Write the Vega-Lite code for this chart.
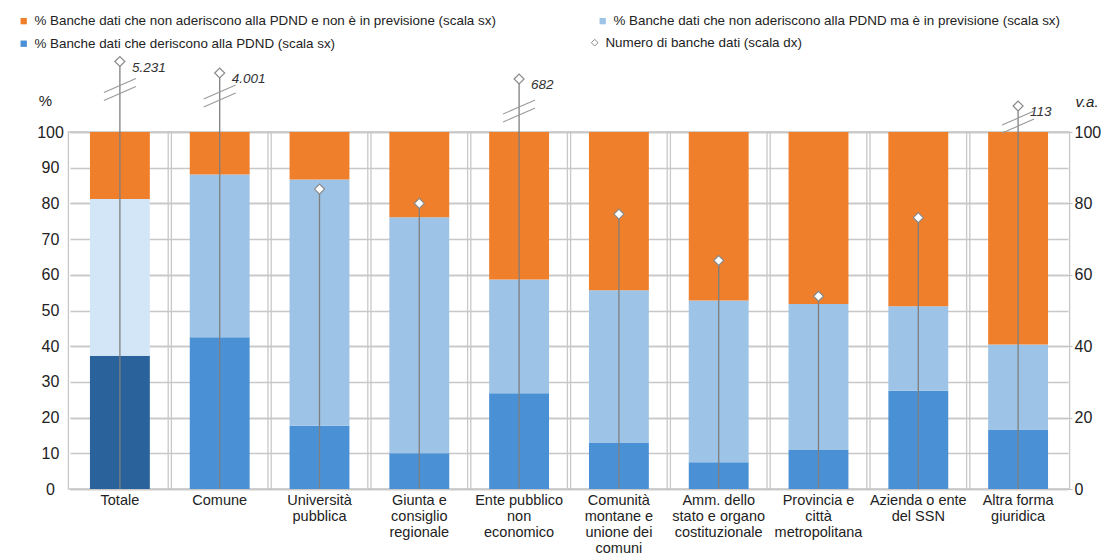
{
  "$schema": "https://vega.github.io/schema/vega-lite/v6.json",
  "autosize": "none",
  "width": 998,
  "height": 357,
  "padding": {"left": 70, "top": 132, "right": 44, "bottom": 67},
  "background": "#ffffff",
  "config": {
    "font": "Liberation Sans",
    "view": {"stroke": null},
    "axis": {"labelFont": "Liberation Sans Narrow, Liberation Sans", "labelColor": "#222222", "titleColor": "#222222", "titleFontWeight": "normal"}
  },
  "datasets": {
    "quote": [
      {"categoria": "Totale", "serie": "% Banche dati che deriscono alla PDND (scala sx)", "valore": 37.3},
      {"categoria": "Totale", "serie": "% Banche dati che non aderiscono alla PDND ma è in previsione (scala sx)", "valore": 43.9},
      {"categoria": "Totale", "serie": "% Banche dati che non aderiscono alla PDND e non è in previsione (scala sx)", "valore": 18.8},
      {"categoria": "Comune", "serie": "% Banche dati che deriscono alla PDND (scala sx)", "valore": 42.5},
      {"categoria": "Comune", "serie": "% Banche dati che non aderiscono alla PDND ma è in previsione (scala sx)", "valore": 45.6},
      {"categoria": "Comune", "serie": "% Banche dati che non aderiscono alla PDND e non è in previsione (scala sx)", "valore": 11.9},
      {"categoria": "Università pubblica", "serie": "% Banche dati che deriscono alla PDND (scala sx)", "valore": 17.7},
      {"categoria": "Università pubblica", "serie": "% Banche dati che non aderiscono alla PDND ma è in previsione (scala sx)", "valore": 69.0},
      {"categoria": "Università pubblica", "serie": "% Banche dati che non aderiscono alla PDND e non è in previsione (scala sx)", "valore": 13.3},
      {"categoria": "Giunta e consiglio regionale", "serie": "% Banche dati che deriscono alla PDND (scala sx)", "valore": 10.0},
      {"categoria": "Giunta e consiglio regionale", "serie": "% Banche dati che non aderiscono alla PDND ma è in previsione (scala sx)", "valore": 66.1},
      {"categoria": "Giunta e consiglio regionale", "serie": "% Banche dati che non aderiscono alla PDND e non è in previsione (scala sx)", "valore": 23.9},
      {"categoria": "Ente pubblico non economico", "serie": "% Banche dati che deriscono alla PDND (scala sx)", "valore": 26.8},
      {"categoria": "Ente pubblico non economico", "serie": "% Banche dati che non aderiscono alla PDND ma è in previsione (scala sx)", "valore": 31.9},
      {"categoria": "Ente pubblico non economico", "serie": "% Banche dati che non aderiscono alla PDND e non è in previsione (scala sx)", "valore": 41.3},
      {"categoria": "Comunità montane e unione dei comuni", "serie": "% Banche dati che deriscono alla PDND (scala sx)", "valore": 13.0},
      {"categoria": "Comunità montane e unione dei comuni", "serie": "% Banche dati che non aderiscono alla PDND ma è in previsione (scala sx)", "valore": 42.7},
      {"categoria": "Comunità montane e unione dei comuni", "serie": "% Banche dati che non aderiscono alla PDND e non è in previsione (scala sx)", "valore": 44.3},
      {"categoria": "Amm. dello stato e organo costituzionale", "serie": "% Banche dati che deriscono alla PDND (scala sx)", "valore": 7.5},
      {"categoria": "Amm. dello stato e organo costituzionale", "serie": "% Banche dati che non aderiscono alla PDND ma è in previsione (scala sx)", "valore": 45.3},
      {"categoria": "Amm. dello stato e organo costituzionale", "serie": "% Banche dati che non aderiscono alla PDND e non è in previsione (scala sx)", "valore": 47.2},
      {"categoria": "Provincia e città metropolitana", "serie": "% Banche dati che deriscono alla PDND (scala sx)", "valore": 10.9},
      {"categoria": "Provincia e città metropolitana", "serie": "% Banche dati che non aderiscono alla PDND ma è in previsione (scala sx)", "valore": 40.9},
      {"categoria": "Provincia e città metropolitana", "serie": "% Banche dati che non aderiscono alla PDND e non è in previsione (scala sx)", "valore": 48.2},
      {"categoria": "Azienda o ente del SSN", "serie": "% Banche dati che deriscono alla PDND (scala sx)", "valore": 27.5},
      {"categoria": "Azienda o ente del SSN", "serie": "% Banche dati che non aderiscono alla PDND ma è in previsione (scala sx)", "valore": 23.7},
      {"categoria": "Azienda o ente del SSN", "serie": "% Banche dati che non aderiscono alla PDND e non è in previsione (scala sx)", "valore": 48.8},
      {"categoria": "Altra forma giuridica", "serie": "% Banche dati che deriscono alla PDND (scala sx)", "valore": 16.7},
      {"categoria": "Altra forma giuridica", "serie": "% Banche dati che non aderiscono alla PDND ma è in previsione (scala sx)", "valore": 23.8},
      {"categoria": "Altra forma giuridica", "serie": "% Banche dati che non aderiscono alla PDND e non è in previsione (scala sx)", "valore": 59.5}
    ],
    "numero": [
      {"categoria": "Totale", "banche": 5231},
      {"categoria": "Comune", "banche": 4001},
      {"categoria": "Università pubblica", "banche": 84},
      {"categoria": "Giunta e consiglio regionale", "banche": 80},
      {"categoria": "Ente pubblico non economico", "banche": 682},
      {"categoria": "Comunità montane e unione dei comuni", "banche": 77},
      {"categoria": "Amm. dello stato e organo costituzionale", "banche": 64},
      {"categoria": "Provincia e città metropolitana", "banche": 54},
      {"categoria": "Azienda o ente del SSN", "banche": 76},
      {"categoria": "Altra forma giuridica", "banche": 113}
    ]
  },
  "encoding": {
    "x": {
      "field": "categoria",
      "type": "nominal",
      "sort": null,
      "scale": {"paddingInner": 0.4, "paddingOuter": 0.2},
      "axis": {
        "title": null,
        "labelAngle": 0,
        "domain": false,
        "ticks": false,
        "grid": false,
        "labelFontSize": 14.5,
        "labelLineHeight": 16,
        "labelPadding": 4,
        "labelBaseline": "top",
        "labelExpr": "datum.label == 'Università pubblica' ? ['Università', 'pubblica'] : datum.label == 'Giunta e consiglio regionale' ? ['Giunta e', 'consiglio', 'regionale'] : datum.label == 'Ente pubblico non economico' ? ['Ente pubblico', 'non', 'economico'] : datum.label == 'Comunità montane e unione dei comuni' ? ['Comunità', 'montane e', 'unione dei', 'comuni'] : datum.label == 'Amm. dello stato e organo costituzionale' ? ['Amm. dello', 'stato  e organo', 'costituzionale'] : datum.label == 'Provincia e città metropolitana' ? ['Provincia e', 'città', 'metropolitana'] : datum.label == 'Azienda o ente del SSN' ? ['Azienda o ente', 'del SSN'] : datum.label == 'Altra forma giuridica' ? ['Altra forma', 'giuridica'] : datum.label"
      }
    }
  },
  "layer": [
    {
      "data": {"name": "numero"},
      "mark": {"type": "bar", "fill": null, "stroke": "#C8C8C8", "strokeWidth": 1.3, "width": {"band": 1.72}},
      "encoding": {
        "y": {"datum": 100, "type": "quantitative", "scale": {"domain": [0, 100], "nice": false}, "axis": null},
        "y2": {"datum": 0}
      }
    },
    {
      "data": {"name": "quote"},
      "transform": [
        {"calculate": "indexof(['% Banche dati che deriscono alla PDND (scala sx)', '% Banche dati che non aderiscono alla PDND ma è in previsione (scala sx)', '% Banche dati che non aderiscono alla PDND e non è in previsione (scala sx)'], datum.serie)", "as": "ordine"},
        {"calculate": "datum.categoria === 'Totale' && datum.ordine < 2 ? datum.serie + ' | Totale' : datum.serie", "as": "chiave"}
      ],
      "mark": {"type": "bar"},
      "encoding": {
        "y": {
          "field": "valore",
          "type": "quantitative",
          "stack": "zero",
          "scale": {"domain": [0, 100], "nice": false},
          "axis": {
            "orient": "left",
            "values": [0, 10, 20, 30, 40, 50, 60, 70, 80, 90, 100],
            "labelOverlap": false,
            "grid": true,
            "gridColor": "#c8c8c8",
            "gridWidth": 1.5,
            "domain": false,
            "ticks": false,
            "tickSize": 0,
            "labelAlign": "center",
            "labelPadding": 20,
            "labelFontSize": 16,
            "title": "%",
            "titleAngle": 0,
            "titleX": -25,
            "titleY": -32,
            "titleAlign": "center",
            "titleBaseline": "middle",
            "titleFont": "Liberation Sans Narrow, Liberation Sans",
            "titleFontSize": 15
          }
        },
        "order": {"field": "ordine", "type": "quantitative"},
        "color": {
          "field": "chiave",
          "type": "nominal",
          "scale": {
            "domain": [
              "% Banche dati che non aderiscono alla PDND e non è in previsione (scala sx)",
              "% Banche dati che non aderiscono alla PDND ma è in previsione (scala sx)",
              "% Banche dati che deriscono alla PDND (scala sx)",
              "% Banche dati che non aderiscono alla PDND ma è in previsione (scala sx) | Totale",
              "% Banche dati che deriscono alla PDND (scala sx) | Totale"
            ],
            "range": ["#F07F2B", "#9DC3E6", "#4A90D5", "#D3E6F8", "#2A639C"]
          },
          "legend": {
            "values": [
              "% Banche dati che non aderiscono alla PDND e non è in previsione (scala sx)",
              "% Banche dati che non aderiscono alla PDND ma è in previsione (scala sx)",
              "% Banche dati che deriscono alla PDND (scala sx)"
            ],
            "orient": "none",
            "legendX": -53,
            "legendY": -118,
            "direction": "horizontal",
            "columns": 2,
            "columnPadding": 100,
            "rowPadding": 8,
            "padding": 0,
            "title": null,
            "symbolType": "square",
            "symbolSize": 40,
            "symbolStrokeWidth": 0,
            "labelFont": "Liberation Sans",
            "labelFontSize": 13.4,
            "labelColor": "#222222",
            "labelOffset": 4,
            "labelLimit": 600
          }
        }
      }
    },
    {
      "data": {"name": "numero"},
      "layer": [
        {
          "layer": [
            {
              "mark": {"type": "rule", "color": "#7F7F7F", "strokeWidth": 1.3},
              "encoding": {
                "y": {
                  "field": "banche",
                  "type": "quantitative",
                  "scale": {"domain": [0, 100, 113, 682, 4001, 5231], "range": [357, 0, -26, -53, -59, -73]},
                  "axis": {
                    "orient": "right",
                    "values": [0, 10, 20, 30, 40, 50, 60, 70, 80, 90, 100],
                    "labelOverlap": false,
                    "grid": true,
                    "gridColor": "#c8c8c8",
                    "gridWidth": 1.5,
                    "domain": false,
                    "ticks": true,
                    "tickSize": 4,
                    "tickColor": "#bfbfbf",
                    "labelPadding": 2,
                    "labelFontSize": 16,
                    "title": "v.a.",
                    "titleAngle": 0,
                    "titleX": 7,
                    "titleY": -31,
                    "titleAlign": "left",
                    "titleBaseline": "middle",
                    "titleFont": "Liberation Sans Narrow, Liberation Sans",
                    "titleFontStyle": "italic",
                    "titleFontSize": 15
                  }
                },
                "y2": {"datum": 0}
              }
            },
            {
              "mark": {"type": "point", "filled": true, "fill": "#FFFFFF", "strokeWidth": 1.2, "size": 100, "opacity": 1},
              "encoding": {
                "y": {"field": "banche", "type": "quantitative"},
                "shape": {
                  "datum": "Numero di banche dati (scala dx)",
                  "type": "nominal",
                  "scale": {"range": ["diamond"]},
                  "legend": {
                    "orient": "none",
                    "legendX": 518,
                    "legendY": -96,
                    "padding": 0,
                    "title": null,
                    "symbolSize": 45,
                    "symbolFillColor": "#FFFFFF",
                    "symbolStrokeWidth": 1,
                    "labelFont": "Liberation Sans",
                    "labelFontSize": 13.4,
                    "labelColor": "#222222",
                    "labelOffset": 4,
                    "labelLimit": 600
                  }
                },
                "stroke": {
                  "datum": "Numero di banche dati (scala dx)",
                  "type": "nominal",
                  "scale": {"range": ["#8A8A8A"]},
                  "legend": {
                    "orient": "none",
                    "legendX": 518,
                    "legendY": -96,
                    "padding": 0,
                    "title": null,
                    "symbolSize": 45,
                    "symbolFillColor": "#FFFFFF",
                    "symbolStrokeWidth": 1,
                    "labelFont": "Liberation Sans",
                    "labelFontSize": 13.4,
                    "labelColor": "#222222",
                    "labelOffset": 4,
                    "labelLimit": 600
                  }
                }
              }
            },
            {
              "transform": [
                {"filter": "datum.banche > 100"},
                {"calculate": "replace(format(datum.banche, ','), ',', '.')", "as": "etichetta"}
              ],
              "mark": {"type": "text", "align": "left", "baseline": "middle", "dx": 12, "dy": 6, "fontStyle": "italic", "fontSize": 13.5, "color": "#333333"},
              "encoding": {
                "y": {"field": "banche", "type": "quantitative"},
                "text": {"field": "etichetta", "type": "nominal"}
              }
            }
          ]
        },
        {
          "transform": [{"filter": "datum.banche > 100"}],
          "layer": [
            {
              "mark": {"type": "rule", "color": "#9A9A9A", "strokeWidth": 1.1, "xOffset": -16, "x2Offset": 16, "yOffset": 3, "y2Offset": -11},
              "encoding": {
                "y": {
                  "field": "banche",
                  "type": "quantitative",
                  "scale": {"domain": [0, 100, 113, 682, 4001, 5231], "range": [357, 0, -10, -21, -36, -44]},
                  "axis": null
                },
                "x2": {"field": "categoria"},
                "y2": {"field": "banche"}
              }
            },
            {
              "mark": {"type": "rule", "color": "#9A9A9A", "strokeWidth": 1.1, "xOffset": -16, "x2Offset": 16, "yOffset": 11, "y2Offset": -3},
              "encoding": {
                "y": {"field": "banche", "type": "quantitative", "axis": null},
                "x2": {"field": "categoria"},
                "y2": {"field": "banche"}
              }
            }
          ]
        }
      ],
      "resolve": {"scale": {"y": "independent"}, "axis": {"y": "independent"}}
    }
  ],
  "resolve": {"scale": {"y": "independent"}, "axis": {"y": "independent"}}
}
